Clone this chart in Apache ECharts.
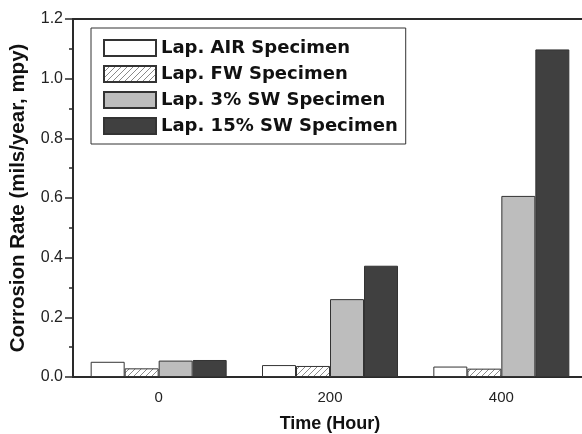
<!DOCTYPE html>
<html>
<head>
<meta charset="utf-8">
<script src="https://cdn.jsdelivr.net/npm/echarts@6/dist/echarts.min.js"></script>
<style>
  html, body { margin: 0; padding: 0; background: #fff; }
  #chart { width: 582px; height: 434px; }
</style>
</head>
<body>
<div id="chart"></div>
<script>
var hours = ["0", "200", "400"];
var seriesNames = ["Lap. AIR Specimen", "Lap. FW Specimen", "Lap. 3% SW Specimen", "Lap. 15% SW Specimen"];
var airVals = [0.051, 0.040, 0.035];
var fwVals = [0.029, 0.037, 0.028];
var sw3Vals = [0.055, 0.261, 0.607];
var sw15Vals = [0.057, 0.373, 1.098];

// diagonal hatch for the FW series
function hatch() {
    var c = document.createElement("canvas");
    c.width = 6;
    c.height = 6;
    var g = c.getContext("2d");
    g.fillStyle = "#ffffff";
    g.fillRect(0, 0, 6, 6);
    g.strokeStyle = "#8a8a8a";
    g.lineWidth = 1;
    g.beginPath();
    g.moveTo(0, 6); g.lineTo(6, 0);
    g.moveTo(-1, 1); g.lineTo(1, -1);
    g.moveTo(5, 7); g.lineTo(7, 5);
    g.stroke();
    return c;
}

var fills = ["#ffffff", { image: hatch(), repeat: "repeat" }, "#bdbdbd", "#404040"];
var values = [airVals, fwVals, sw3Vals, sw15Vals];

var chart = echarts.init(document.getElementById("chart"));
var axisColor = "#2a2a2a";

chart.setOption({
    animation: false,
    backgroundColor: "#ffffff",
    grid: { left: 73, right: -5, top: 19, bottom: 57, containLabel: false, outerBoundsMode: "none" },
    legend: {
        orient: "vertical",
        left: 91,
        top: 28,
        padding: [11, 8, 9, 12],
        borderColor: "#333",
        borderWidth: 1,
        icon: "rect",
        itemWidth: 52,
        itemHeight: 16,
        itemGap: 8,
        textStyle: { fontFamily: "DejaVu Sans", fontWeight: "bold", fontSize: 18, color: "#111" },
        data: seriesNames
    },
    xAxis: [{
        type: "category",
        data: hours,
        position: "bottom",
        name: "Time (Hour)",
        nameLocation: "middle",
        nameGap: 38,
        nameTextStyle: { fontFamily: "Liberation Sans", fontWeight: "bold", fontSize: 18, color: "#111" },
        axisLine: { lineStyle: { color: axisColor, width: 2 } },
        axisTick: { alignWithLabel: true, length: 8, lineStyle: { color: axisColor, width: 1.5 } },
        axisLabel: { fontFamily: "Liberation Sans", fontSize: 15, color: "#222", margin: 13 }
    }, {
        type: "category",
        data: hours,
        position: "bottom",
        axisLine: { show: false },
        axisTick: { length: 4, lineStyle: { color: axisColor, width: 1.5 } },
        axisLabel: { show: false }
    }, {
        type: "category",
        data: hours,
        position: "top",
        axisLine: { lineStyle: { color: axisColor, width: 2 } },
        axisTick: { show: false },
        axisLabel: { show: false }
    }],
    yAxis: {
        type: "value",
        min: 0,
        max: 1.2,
        interval: 0.2,
        name: "Corrosion Rate (mils/year, mpy)",
        nameLocation: "middle",
        nameGap: 44,
        nameTextStyle: { fontFamily: "Liberation Sans", fontWeight: "bold", fontSize: 20.5, color: "#111" },
        axisLine: { show: true, lineStyle: { color: axisColor, width: 2 } },
        axisTick: { show: true, length: 8, lineStyle: { color: axisColor, width: 1.5 } },
        minorTick: { show: true, splitNumber: 2, length: 4, lineStyle: { color: axisColor, width: 1.5 } },
        splitLine: { show: false },
        axisLabel: {
            fontFamily: "Liberation Sans", fontSize: 16, color: "#222", margin: 10,
            formatter: function (v) { return v.toFixed(1); }
        }
    },
    series: seriesNames.map(function (n, i) {
        return {
            name: n,
            type: "bar",
            xAxisIndex: 0,
            barWidth: 34,
            barGap: "0%",
            data: values[i],
            itemStyle: { color: fills[i], borderColor: "#333", borderWidth: 1 }
        };
    })
});
</script>
</body>
</html>
